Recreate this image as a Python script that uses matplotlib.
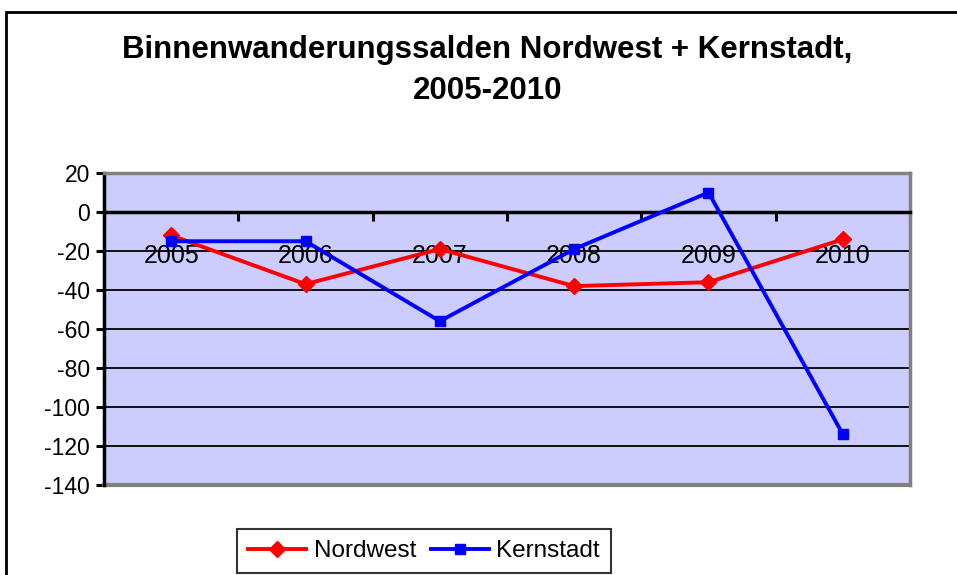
import matplotlib
matplotlib.use("Agg")
import matplotlib.pyplot as plt
from matplotlib.patches import Rectangle
from matplotlib.transforms import blended_transform_factory

plt.rcParams['font.family'] = ['Liberation Sans', 'DejaVu Sans']

years = ['2005', '2006', '2007', '2008', '2009', '2010']
nordwest = [-12, -37, -19, -38, -36, -14]
kernstadt = [-15, -15, -56, -19, 10, -114]
yticks = [20, 0, -20, -40, -60, -80, -100, -120, -140]

W, H = 957, 575
fig = plt.figure(figsize=(W / 100, H / 100), dpi=100)

# outer chart frame (partially visible)
fig.add_artist(Rectangle((6 / W, -0.05), 1.2, 1 - 12 / H + 0.05, transform=fig.transFigure,
                         fill=False, edgecolor='black', linewidth=2))

ax = fig.add_axes([104 / W, 1 - 485 / H, 806 / W, 312 / H])
ax.set_facecolor('#CCCCFF')

x = list(range(len(years)))
ax.plot(x, nordwest, color='#FF0000', linewidth=2.8, marker='D', markersize=8,
        label='Nordwest', zorder=4)
ax.plot(x, kernstadt, color='#0000FF', linewidth=2.8, marker='s', markersize=7.5,
        label='Kernstadt', zorder=4)

ax.set_xlim(-0.5, len(years) - 0.5)
ax.set_ylim(-140, 20)
ax.set_yticks(yticks)
ax.set_yticklabels([str(v) for v in yticks], fontsize=16.5)
for v in yticks:
    if -140 < v < 0:
        ax.axhline(v, color='black', linewidth=1.3, zorder=1)

# spines
ax.spines['bottom'].set_position(('data', 0))
ax.spines['bottom'].set_linewidth(2.5)
ax.spines['bottom'].set_zorder(3)
ax.spines['left'].set_linewidth(2.5)
for s in ['top', 'right']:
    ax.spines[s].set_color('#808080')
    ax.spines[s].set_linewidth(2.5)
ax.plot([0, 1], [0, 0], transform=ax.transAxes, color='#808080', linewidth=3,
        clip_on=False, zorder=2)

ax.tick_params(axis='y', direction='out', length=6, width=2.2, pad=4)
ax.set_xticks(x)
ax.set_xticklabels([])
ax.tick_params(axis='x', which='major', length=0)
ax.set_xticks([i - 0.5 for i in range(len(years) + 1)], minor=True)
ax.tick_params(axis='x', which='minor', direction='out', length=6.5, width=2.2)

# category labels just under the zero axis
tr = blended_transform_factory(ax.transData, fig.transFigure)
for i, yr in enumerate(years):
    ax.text(i, 1 - 263 / H, yr, transform=tr, ha='center', va='baseline',
            fontsize=18, zorder=3)

fig.text(487 / W, 1 - 58 / H, 'Binnenwanderungssalden Nordwest + Kernstadt,',
         ha='center', va='baseline', fontsize=22.5, fontweight='bold')
fig.text(488 / W, 1 - 99 / H, '2005-2010', ha='center', va='baseline',
         fontsize=22.5, fontweight='bold')

leg = fig.legend(loc='center', bbox_to_anchor=(424 / W, 1 - 551 / H), ncol=2,
                 fontsize=17.5, frameon=True, fancybox=False, handlelength=2.4,
                 handletextpad=0.3, columnspacing=0.6, borderpad=0.45,
                 borderaxespad=0)
leg.get_frame().set_edgecolor('black')
leg.get_frame().set_linewidth(1.5)

fig.savefig('out.png', dpi=100)
